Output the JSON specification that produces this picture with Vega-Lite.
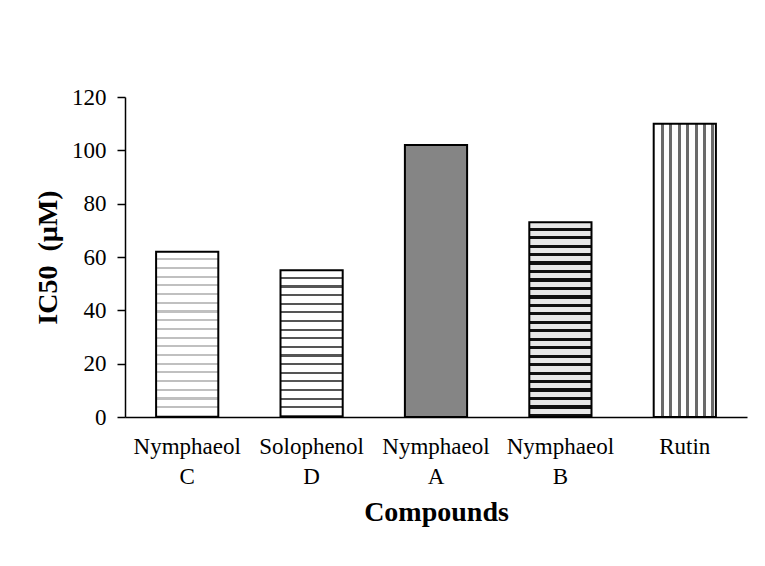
{
  "$schema": "https://vega.github.io/schema/vega-lite/v6.json",
  "width": 622,
  "height": 320,
  "autosize": {"type": "none"},
  "padding": {"left": 125, "top": 97, "right": 18, "bottom": 149},
  "background": "white",
  "config": {"view": {"stroke": null}},
  "data": {
    "values": [
      {"compound": "Nymphaeol C", "ic50": 62},
      {"compound": "Solophenol D", "ic50": 55},
      {"compound": "Nymphaeol A", "ic50": 102},
      {"compound": "Nymphaeol B", "ic50": 73},
      {"compound": "Rutin", "ic50": 110}
    ]
  },
  "encoding": {
    "x": {
      "field": "compound",
      "type": "nominal",
      "scale": {
        "domain": ["Nymphaeol C", "Solophenol D", "Nymphaeol A", "Nymphaeol B", "Rutin"],
        "paddingInner": 0.5,
        "paddingOuter": 0.25
      },
      "axis": {
        "title": "Compounds",
        "titleFont": "Liberation Serif",
        "titleFontSize": 28,
        "titleFontWeight": "bold",
        "titleColor": "black",
        "titlePadding": 10,
        "labelFont": "Liberation Serif",
        "labelFontSize": 23,
        "labelColor": "black",
        "labelAngle": 0,
        "labelPadding": 18,
        "labelLineHeight": 30,
        "labelExpr": "split(datum.label, ' ')",
        "ticks": false,
        "domainColor": "black",
        "domainWidth": 1.5
      }
    },
    "y": {
      "field": "ic50",
      "type": "quantitative",
      "scale": {"domain": [0, 120]},
      "axis": {
        "title": "IC50 \u00a0(µM)",
        "titleFont": "Liberation Serif",
        "titleFontSize": 28,
        "titleFontWeight": "bold",
        "titleColor": "black",
        "titlePadding": 9,
        "labelFont": "Liberation Serif",
        "labelFontSize": 23,
        "labelColor": "black",
        "labelPadding": 11,
        "values": [0, 20, 40, 60, 80, 100, 120],
        "grid": false,
        "tickSize": 8,
        "tickColor": "black",
        "tickWidth": 1.5,
        "domainColor": "black",
        "domainWidth": 1.5
      }
    }
  },
  "layer": [
    {
      "transform": [{"filter": "datum.compound === 'Nymphaeol C'"}],
      "mark": {
        "type": "bar", "stroke": "black", "strokeWidth": 2,
        "fill": {
          "gradient": "linear", "x1": 0, "y1": 0, "x2": 0, "y2": 1,
          "stops": [
            {"offset": 0, "color": "white"}, {"offset": 0.0395, "color": "white"}, {"offset": 0.0395, "color": "#c0c0c0"}, {"offset": 0.0526, "color": "#c0c0c0"},
            {"offset": 0.0526, "color": "white"}, {"offset": 0.0921, "color": "white"}, {"offset": 0.0921, "color": "#c0c0c0"}, {"offset": 0.1053, "color": "#c0c0c0"},
            {"offset": 0.1053, "color": "white"}, {"offset": 0.1447, "color": "white"}, {"offset": 0.1447, "color": "#c0c0c0"}, {"offset": 0.1579, "color": "#c0c0c0"},
            {"offset": 0.1579, "color": "white"}, {"offset": 0.1974, "color": "white"}, {"offset": 0.1974, "color": "#c0c0c0"}, {"offset": 0.2105, "color": "#c0c0c0"},
            {"offset": 0.2105, "color": "white"}, {"offset": 0.25, "color": "white"}, {"offset": 0.25, "color": "#c0c0c0"}, {"offset": 0.2632, "color": "#c0c0c0"},
            {"offset": 0.2632, "color": "white"}, {"offset": 0.3026, "color": "white"}, {"offset": 0.3026, "color": "#c0c0c0"}, {"offset": 0.3158, "color": "#c0c0c0"},
            {"offset": 0.3158, "color": "white"}, {"offset": 0.3553, "color": "white"}, {"offset": 0.3553, "color": "#c0c0c0"}, {"offset": 0.3684, "color": "#c0c0c0"},
            {"offset": 0.3684, "color": "white"}, {"offset": 0.4079, "color": "white"}, {"offset": 0.4079, "color": "#c0c0c0"}, {"offset": 0.4211, "color": "#c0c0c0"},
            {"offset": 0.4211, "color": "white"}, {"offset": 0.4605, "color": "white"}, {"offset": 0.4605, "color": "#c0c0c0"}, {"offset": 0.4737, "color": "#c0c0c0"},
            {"offset": 0.4737, "color": "white"}, {"offset": 0.5132, "color": "white"}, {"offset": 0.5132, "color": "#c0c0c0"}, {"offset": 0.5263, "color": "#c0c0c0"},
            {"offset": 0.5263, "color": "white"}, {"offset": 0.5658, "color": "white"}, {"offset": 0.5658, "color": "#c0c0c0"}, {"offset": 0.5789, "color": "#c0c0c0"},
            {"offset": 0.5789, "color": "white"}, {"offset": 0.6184, "color": "white"}, {"offset": 0.6184, "color": "#c0c0c0"}, {"offset": 0.6316, "color": "#c0c0c0"},
            {"offset": 0.6316, "color": "white"}, {"offset": 0.6711, "color": "white"}, {"offset": 0.6711, "color": "#c0c0c0"}, {"offset": 0.6842, "color": "#c0c0c0"},
            {"offset": 0.6842, "color": "white"}, {"offset": 0.7237, "color": "white"}, {"offset": 0.7237, "color": "#c0c0c0"}, {"offset": 0.7368, "color": "#c0c0c0"},
            {"offset": 0.7368, "color": "white"}, {"offset": 0.7763, "color": "white"}, {"offset": 0.7763, "color": "#c0c0c0"}, {"offset": 0.7895, "color": "#c0c0c0"},
            {"offset": 0.7895, "color": "white"}, {"offset": 0.8289, "color": "white"}, {"offset": 0.8289, "color": "#c0c0c0"}, {"offset": 0.8421, "color": "#c0c0c0"},
            {"offset": 0.8421, "color": "white"}, {"offset": 0.8816, "color": "white"}, {"offset": 0.8816, "color": "#c0c0c0"}, {"offset": 0.8947, "color": "#c0c0c0"},
            {"offset": 0.8947, "color": "white"}, {"offset": 0.9342, "color": "white"}, {"offset": 0.9342, "color": "#c0c0c0"}, {"offset": 0.9474, "color": "#c0c0c0"},
            {"offset": 0.9474, "color": "white"}, {"offset": 0.9868, "color": "white"}, {"offset": 0.9868, "color": "#c0c0c0"}, {"offset": 1, "color": "#c0c0c0"}
          ]
        }
      }
    },
    {
      "transform": [{"filter": "datum.compound === 'Solophenol D'"}],
      "mark": {
        "type": "bar", "stroke": "black", "strokeWidth": 2,
        "fill": {
          "gradient": "linear", "x1": 0, "y1": 0, "x2": 0, "y2": 1,
          "stops": [
            {"offset": 0, "color": "white"}, {"offset": 0.0441, "color": "white"}, {"offset": 0.0441, "color": "#555555"}, {"offset": 0.0588, "color": "#555555"},
            {"offset": 0.0588, "color": "white"}, {"offset": 0.1029, "color": "white"}, {"offset": 0.1029, "color": "#555555"}, {"offset": 0.1176, "color": "#555555"},
            {"offset": 0.1176, "color": "white"}, {"offset": 0.1618, "color": "white"}, {"offset": 0.1618, "color": "#555555"}, {"offset": 0.1765, "color": "#555555"},
            {"offset": 0.1765, "color": "white"}, {"offset": 0.2206, "color": "white"}, {"offset": 0.2206, "color": "#555555"}, {"offset": 0.2353, "color": "#555555"},
            {"offset": 0.2353, "color": "white"}, {"offset": 0.2794, "color": "white"}, {"offset": 0.2794, "color": "#555555"}, {"offset": 0.2941, "color": "#555555"},
            {"offset": 0.2941, "color": "white"}, {"offset": 0.3382, "color": "white"}, {"offset": 0.3382, "color": "#555555"}, {"offset": 0.3529, "color": "#555555"},
            {"offset": 0.3529, "color": "white"}, {"offset": 0.3971, "color": "white"}, {"offset": 0.3971, "color": "#555555"}, {"offset": 0.4118, "color": "#555555"},
            {"offset": 0.4118, "color": "white"}, {"offset": 0.4559, "color": "white"}, {"offset": 0.4559, "color": "#555555"}, {"offset": 0.4706, "color": "#555555"},
            {"offset": 0.4706, "color": "white"}, {"offset": 0.5147, "color": "white"}, {"offset": 0.5147, "color": "#555555"}, {"offset": 0.5294, "color": "#555555"},
            {"offset": 0.5294, "color": "white"}, {"offset": 0.5735, "color": "white"}, {"offset": 0.5735, "color": "#555555"}, {"offset": 0.5882, "color": "#555555"},
            {"offset": 0.5882, "color": "white"}, {"offset": 0.6324, "color": "white"}, {"offset": 0.6324, "color": "#555555"}, {"offset": 0.6471, "color": "#555555"},
            {"offset": 0.6471, "color": "white"}, {"offset": 0.6912, "color": "white"}, {"offset": 0.6912, "color": "#555555"}, {"offset": 0.7059, "color": "#555555"},
            {"offset": 0.7059, "color": "white"}, {"offset": 0.75, "color": "white"}, {"offset": 0.75, "color": "#555555"}, {"offset": 0.7647, "color": "#555555"},
            {"offset": 0.7647, "color": "white"}, {"offset": 0.8088, "color": "white"}, {"offset": 0.8088, "color": "#555555"}, {"offset": 0.8235, "color": "#555555"},
            {"offset": 0.8235, "color": "white"}, {"offset": 0.8676, "color": "white"}, {"offset": 0.8676, "color": "#555555"}, {"offset": 0.8824, "color": "#555555"},
            {"offset": 0.8824, "color": "white"}, {"offset": 0.9265, "color": "white"}, {"offset": 0.9265, "color": "#555555"}, {"offset": 0.9412, "color": "#555555"},
            {"offset": 0.9412, "color": "white"}, {"offset": 0.9853, "color": "white"}, {"offset": 0.9853, "color": "#555555"}, {"offset": 1, "color": "#555555"}
          ]
        }
      }
    },
    {
      "transform": [{"filter": "datum.compound === 'Nymphaeol A'"}],
      "mark": {"type": "bar", "stroke": "black", "strokeWidth": 2, "fill": "#858585"}
    },
    {
      "transform": [{"filter": "datum.compound === 'Nymphaeol B'"}],
      "mark": {
        "type": "bar", "stroke": "black", "strokeWidth": 2,
        "fill": {
          "gradient": "linear", "x1": 0, "y1": 0, "x2": 0, "y2": 1,
          "stops": [
            {"offset": 0, "color": "#e8e8e8"}, {"offset": 0.0272, "color": "#e8e8e8"}, {"offset": 0.0272, "color": "#111111"}, {"offset": 0.0435, "color": "#111111"},
            {"offset": 0.0435, "color": "#e8e8e8"}, {"offset": 0.0707, "color": "#e8e8e8"}, {"offset": 0.0707, "color": "#111111"}, {"offset": 0.087, "color": "#111111"},
            {"offset": 0.087, "color": "#e8e8e8"}, {"offset": 0.1141, "color": "#e8e8e8"}, {"offset": 0.1141, "color": "#111111"}, {"offset": 0.1304, "color": "#111111"},
            {"offset": 0.1304, "color": "#e8e8e8"}, {"offset": 0.1576, "color": "#e8e8e8"}, {"offset": 0.1576, "color": "#111111"}, {"offset": 0.1739, "color": "#111111"},
            {"offset": 0.1739, "color": "#e8e8e8"}, {"offset": 0.2011, "color": "#e8e8e8"}, {"offset": 0.2011, "color": "#111111"}, {"offset": 0.2174, "color": "#111111"},
            {"offset": 0.2174, "color": "#e8e8e8"}, {"offset": 0.2446, "color": "#e8e8e8"}, {"offset": 0.2446, "color": "#111111"}, {"offset": 0.2609, "color": "#111111"},
            {"offset": 0.2609, "color": "#e8e8e8"}, {"offset": 0.288, "color": "#e8e8e8"}, {"offset": 0.288, "color": "#111111"}, {"offset": 0.3043, "color": "#111111"},
            {"offset": 0.3043, "color": "#e8e8e8"}, {"offset": 0.3315, "color": "#e8e8e8"}, {"offset": 0.3315, "color": "#111111"}, {"offset": 0.3478, "color": "#111111"},
            {"offset": 0.3478, "color": "#e8e8e8"}, {"offset": 0.375, "color": "#e8e8e8"}, {"offset": 0.375, "color": "#111111"}, {"offset": 0.3913, "color": "#111111"},
            {"offset": 0.3913, "color": "#e8e8e8"}, {"offset": 0.4185, "color": "#e8e8e8"}, {"offset": 0.4185, "color": "#111111"}, {"offset": 0.4348, "color": "#111111"},
            {"offset": 0.4348, "color": "#e8e8e8"}, {"offset": 0.462, "color": "#e8e8e8"}, {"offset": 0.462, "color": "#111111"}, {"offset": 0.4783, "color": "#111111"},
            {"offset": 0.4783, "color": "#e8e8e8"}, {"offset": 0.5054, "color": "#e8e8e8"}, {"offset": 0.5054, "color": "#111111"}, {"offset": 0.5217, "color": "#111111"},
            {"offset": 0.5217, "color": "#e8e8e8"}, {"offset": 0.5489, "color": "#e8e8e8"}, {"offset": 0.5489, "color": "#111111"}, {"offset": 0.5652, "color": "#111111"},
            {"offset": 0.5652, "color": "#e8e8e8"}, {"offset": 0.5924, "color": "#e8e8e8"}, {"offset": 0.5924, "color": "#111111"}, {"offset": 0.6087, "color": "#111111"},
            {"offset": 0.6087, "color": "#e8e8e8"}, {"offset": 0.6359, "color": "#e8e8e8"}, {"offset": 0.6359, "color": "#111111"}, {"offset": 0.6522, "color": "#111111"},
            {"offset": 0.6522, "color": "#e8e8e8"}, {"offset": 0.6793, "color": "#e8e8e8"}, {"offset": 0.6793, "color": "#111111"}, {"offset": 0.6957, "color": "#111111"},
            {"offset": 0.6957, "color": "#e8e8e8"}, {"offset": 0.7228, "color": "#e8e8e8"}, {"offset": 0.7228, "color": "#111111"}, {"offset": 0.7391, "color": "#111111"},
            {"offset": 0.7391, "color": "#e8e8e8"}, {"offset": 0.7663, "color": "#e8e8e8"}, {"offset": 0.7663, "color": "#111111"}, {"offset": 0.7826, "color": "#111111"},
            {"offset": 0.7826, "color": "#e8e8e8"}, {"offset": 0.8098, "color": "#e8e8e8"}, {"offset": 0.8098, "color": "#111111"}, {"offset": 0.8261, "color": "#111111"},
            {"offset": 0.8261, "color": "#e8e8e8"}, {"offset": 0.8533, "color": "#e8e8e8"}, {"offset": 0.8533, "color": "#111111"}, {"offset": 0.8696, "color": "#111111"},
            {"offset": 0.8696, "color": "#e8e8e8"}, {"offset": 0.8967, "color": "#e8e8e8"}, {"offset": 0.8967, "color": "#111111"}, {"offset": 0.913, "color": "#111111"},
            {"offset": 0.913, "color": "#e8e8e8"}, {"offset": 0.9402, "color": "#e8e8e8"}, {"offset": 0.9402, "color": "#111111"}, {"offset": 0.9565, "color": "#111111"},
            {"offset": 0.9565, "color": "#e8e8e8"}, {"offset": 0.9837, "color": "#e8e8e8"}, {"offset": 0.9837, "color": "#111111"}, {"offset": 1, "color": "#111111"}
          ]
        }
      }
    },
    {
      "transform": [{"filter": "datum.compound === 'Rutin'"}],
      "mark": {
        "type": "bar", "stroke": "black", "strokeWidth": 2,
        "fill": {
          "gradient": "linear", "x1": 0, "y1": 0, "x2": 1, "y2": 0,
          "stops": [
            {"offset": 0, "color": "white"}, {"offset": 0.121, "color": "white"}, {"offset": 0.121, "color": "#6a6a6a"}, {"offset": 0.169, "color": "#6a6a6a"},
            {"offset": 0.169, "color": "white"}, {"offset": 0.25, "color": "white"}, {"offset": 0.25, "color": "#6a6a6a"}, {"offset": 0.298, "color": "#6a6a6a"},
            {"offset": 0.298, "color": "white"}, {"offset": 0.387, "color": "white"}, {"offset": 0.387, "color": "#6a6a6a"}, {"offset": 0.435, "color": "#6a6a6a"},
            {"offset": 0.435, "color": "white"}, {"offset": 0.524, "color": "white"}, {"offset": 0.524, "color": "#6a6a6a"}, {"offset": 0.573, "color": "#6a6a6a"},
            {"offset": 0.573, "color": "white"}, {"offset": 0.661, "color": "white"}, {"offset": 0.661, "color": "#6a6a6a"}, {"offset": 0.71, "color": "#6a6a6a"},
            {"offset": 0.71, "color": "white"}, {"offset": 0.798, "color": "white"}, {"offset": 0.798, "color": "#6a6a6a"}, {"offset": 0.847, "color": "#6a6a6a"},
            {"offset": 0.847, "color": "white"}, {"offset": 0.927, "color": "white"}, {"offset": 0.927, "color": "#6a6a6a"}, {"offset": 0.976, "color": "#6a6a6a"},
            {"offset": 0.976, "color": "white"}, {"offset": 1, "color": "white"}
          ]
        }
      }
    }
  ]
}
